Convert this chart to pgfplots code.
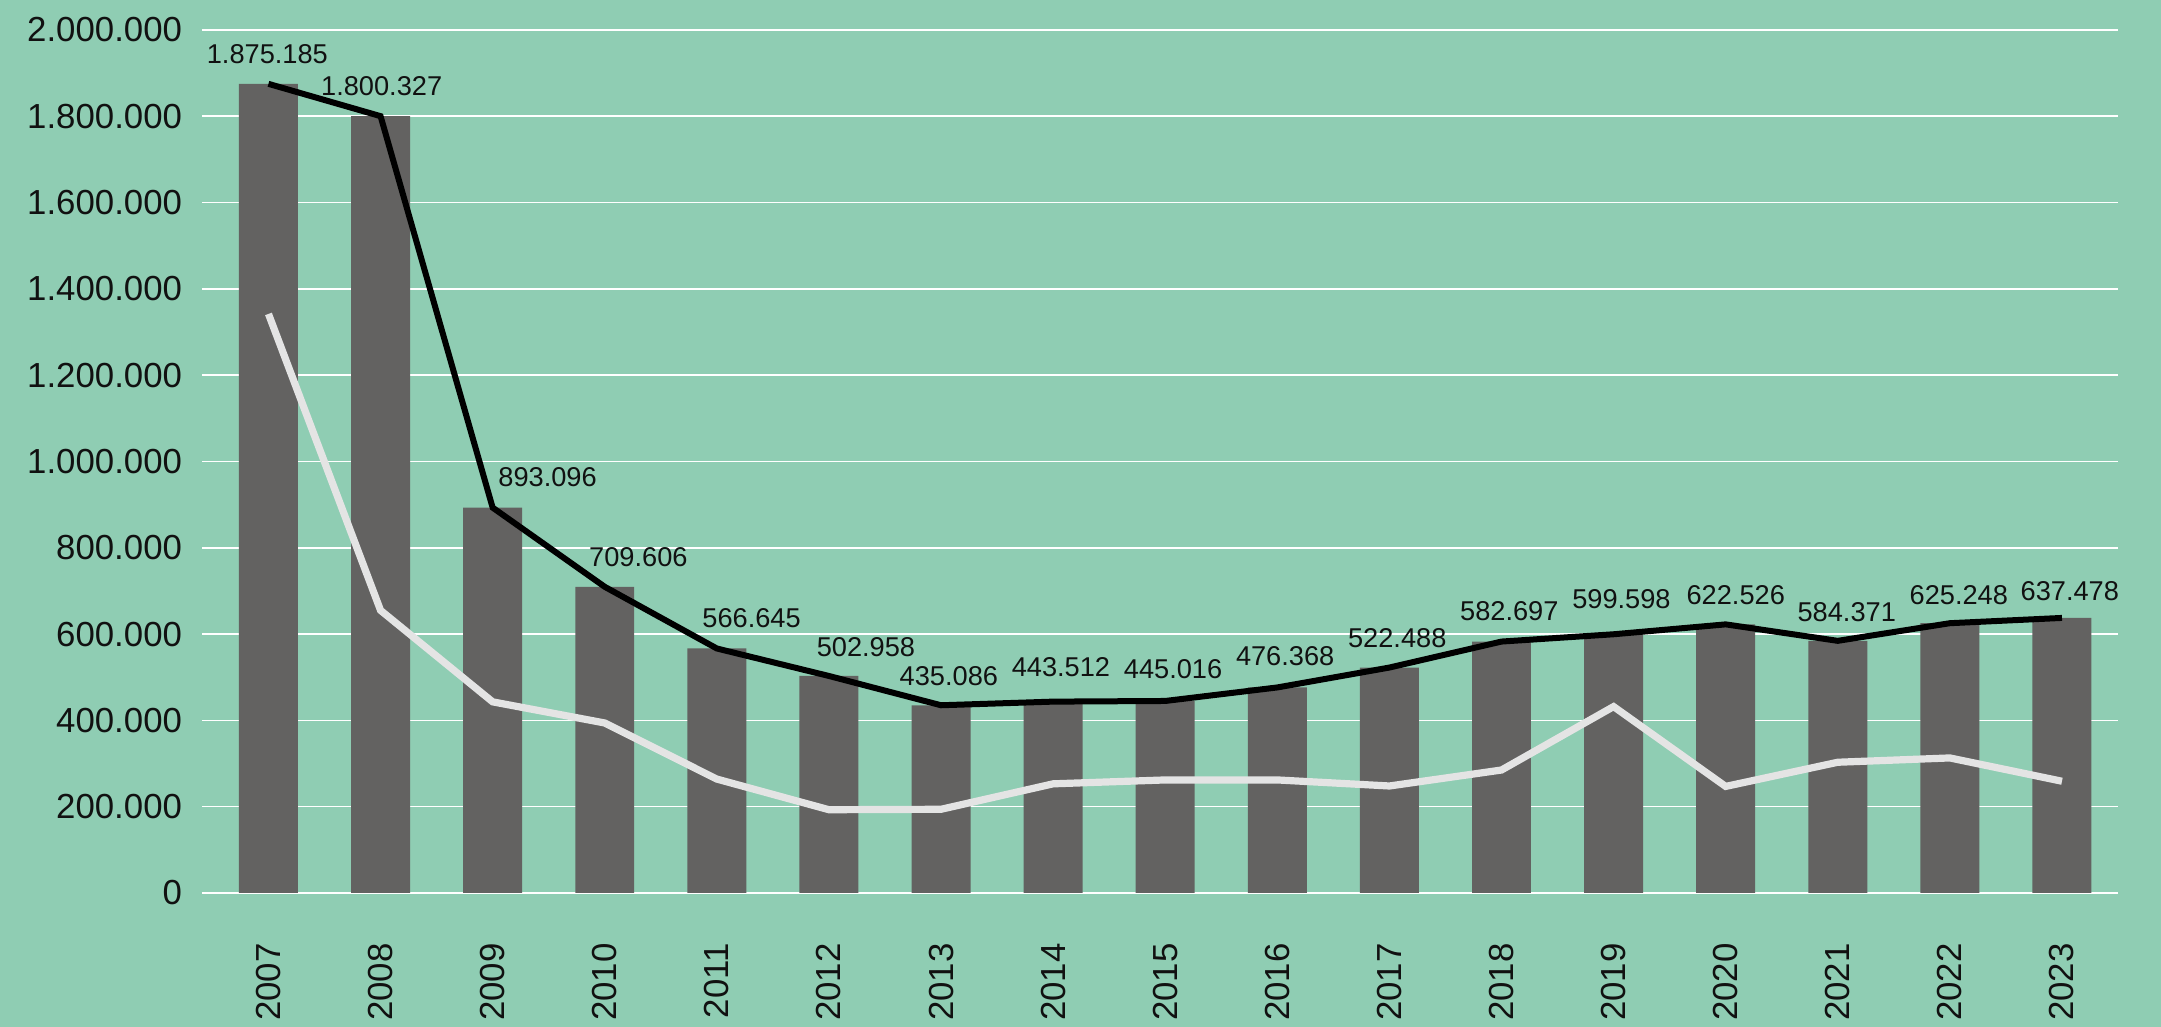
\documentclass[border=0pt]{standalone}
\usepackage{fontspec}
\setmainfont{Liberation Sans}
\usepackage{pgfplots}
\usepackage{pgfplotstable}
\pgfplotsset{compat=1.18}
\definecolor{bg}{HTML}{8FCDB3}
\definecolor{bargray}{HTML}{636261}
\definecolor{lightline}{HTML}{E4E4E4}
\definecolor{labeltext}{HTML}{111111}

\pgfplotstableread{
x bar white
0 1875185 1342000
1 1800327 655000
2 893096 443000
3 709606 394000
4 566645 264000
5 502958 193000
6 435086 194000
7 443512 253000
8 445016 262000
9 476368 262000
10 522488 248000
11 582697 285000
12 599598 432000
13 622526 247000
14 584371 303000
15 625248 313000
16 637478 259000
}\datatable

\pgfplotstableread{
x y label
-0.01 1943000 1.875.185
1.01 1870000 1.800.327
2.49 963000 893.096
3.30 779000 709.606
4.31 637000 566.645
5.33 570000 502.958
6.07 502000 435.086
7.07 524000 443.512
8.07 518000 445.016
9.07 549000 476.368
10.07 591000 522.488
11.07 653000 582.697
12.07 680000 599.598
13.09 690000 622.526
14.08 650000 584.371
15.08 691000 625.248
16.07 700000 637.478
}\labeltable

\begin{document}
\begin{tikzpicture}
\path[use as bounding box, fill=bg] (-50.5pt,-33.5pt) rectangle (489.75pt,223.25pt);
\begin{axis}[
  at={(0,0)}, anchor=south west,
  scale only axis, width=479pt, height=215.75pt,
  xmin=-0.593, xmax=16.5, ymin=0, ymax=2000000,
  axis line style={draw=none},
  major tick length=0pt,
  xtick={0,1,2,3,4,5,6,7,8,9,10,11,12,13,14,15,16},
  xticklabels={2007,2008,2009,2010,2011,2012,2013,2014,2015,2016,2017,2018,2019,2020,2021,2022,2023},
  ytick={0,200000,400000,600000,800000,1000000,1200000,1400000,1600000,1800000,2000000},
  scaled y ticks=false,
  /pgf/number format/fixed,
  /pgf/number format/precision=0,
  /pgf/number format/1000 sep={.},
  /pgf/number format/assume math mode=true,
  tick label style={font=\fontsize{8.7}{10}\selectfont, text=labeltext, inner sep=0pt},
  yticklabel style={anchor=east, xshift=-4.8pt},
  xticklabel style={rotate=90, anchor=east},
  xticklabel shift=12.4pt,
  ymajorgrids, xmajorgrids=false,
  grid style={white, line width=0.4pt},
  clip=false,
]
\addplot[ybar, bar width=0.526, fill=bargray, draw=none] table[x=x, y=bar] {\datatable};
\addplot[lightline, line width=1.8pt, mark=none] table[x=x, y=white] {\datatable};
\addplot[black, line width=1.5pt, mark=none] table[x=x, y=bar] {\datatable};
\addplot[only marks, mark=none, nodes near coords, point meta=explicit symbolic,
  nodes near coords style={font=\fontsize{6.8}{8}\selectfont, text=labeltext, anchor=center, inner sep=0pt}]
  table[x=x, y=y, meta=label] {\labeltable};
\end{axis}
\end{tikzpicture}
\end{document}
